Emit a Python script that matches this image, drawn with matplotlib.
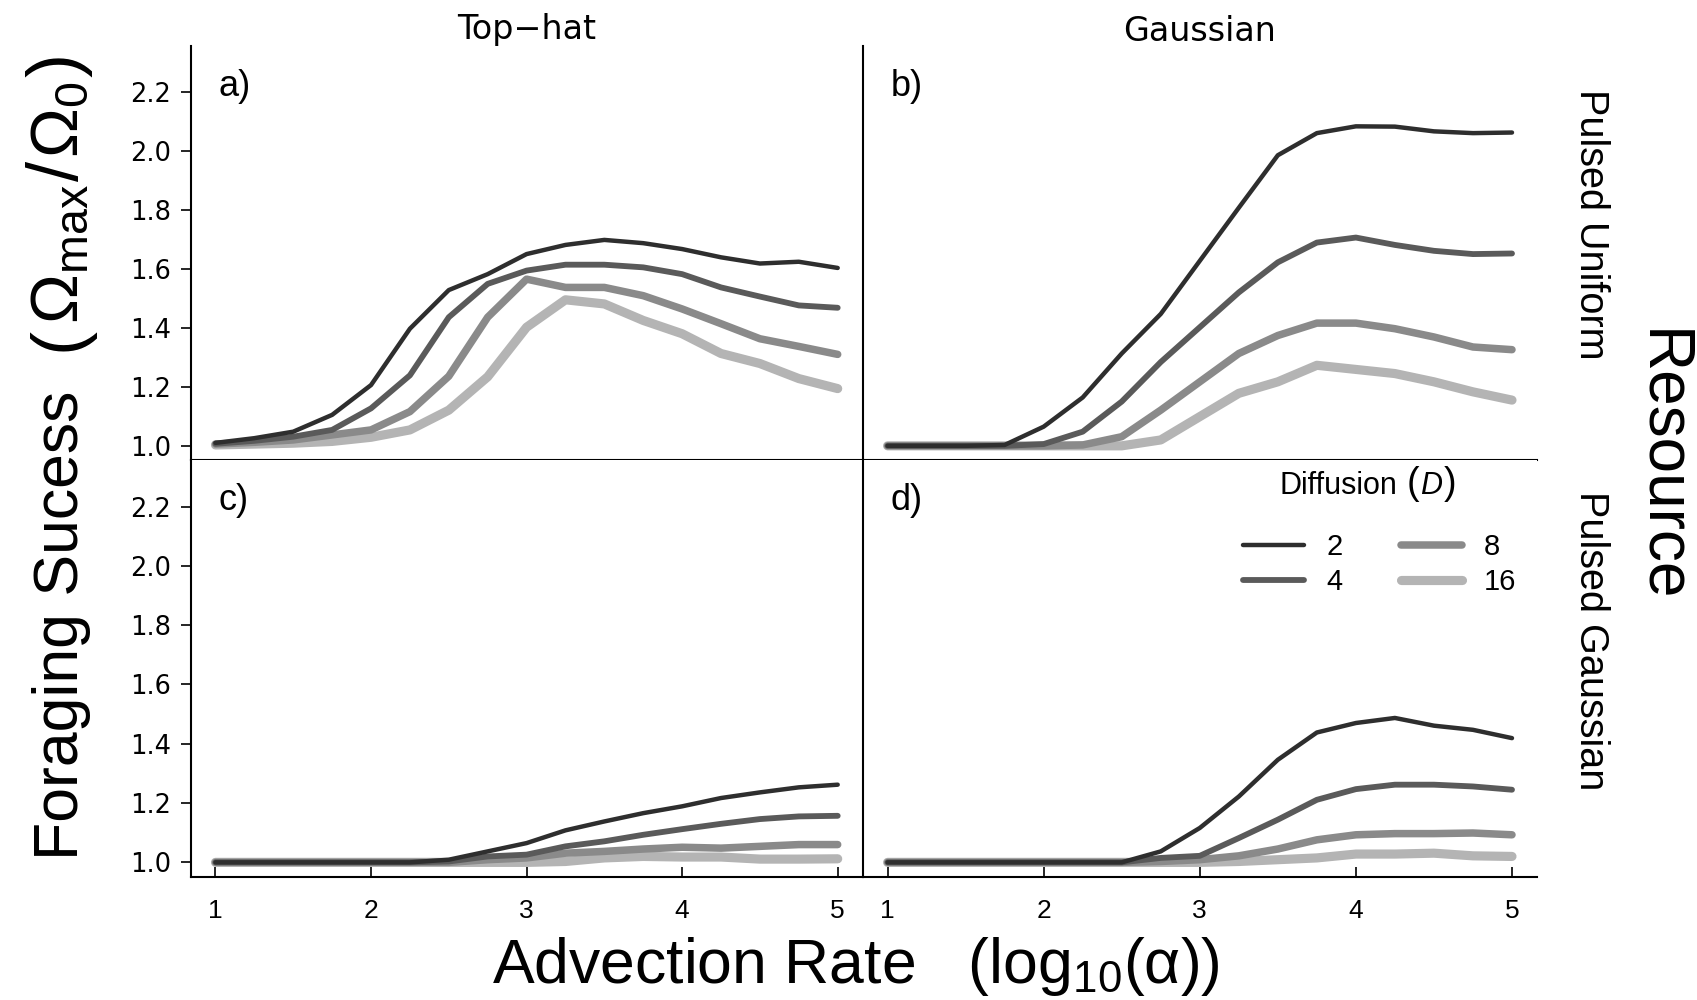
import numpy as np
import matplotlib
matplotlib.use("Agg")
import matplotlib.pyplot as plt
from matplotlib.ticker import FormatStrFormatter
from matplotlib.transforms import IdentityTransform

plt.rcParams["font.family"] = ["Liberation Sans", "DejaVu Sans"]
plt.rcParams["mathtext.fontset"] = "custom"
plt.rcParams["mathtext.rm"] = "Liberation Sans"
plt.rcParams["mathtext.it"] = "Liberation Sans:italic"
plt.rcParams["mathtext.bf"] = "Liberation Sans:bold"

# advection rate, log10(alpha)
log_alpha = [1.0, 1.25, 1.5, 1.75, 2.0, 2.25, 2.5, 2.75, 3.0,
             3.25, 3.5, 3.75, 4.0, 4.25, 4.5, 4.75, 5.0]
diffusion = ["2", "4", "8", "16"]
colors = ["#2e2e2e", "#5a5a5a", "#8a8a8a", "#b4b4b4"]
widths = [3.2, 4.2, 5.4, 6.6]

# a) top-hat forager, pulsed uniform resource (rows: D = 2, 4, 8, 16)
tophat_uniform = [
    [1.01, 1.026, 1.048, 1.105, 1.206, 1.397, 1.528, 1.582, 1.65, 1.681, 1.698, 1.687, 1.667, 1.639, 1.618, 1.624, 1.603],
    [1.007, 1.017, 1.031, 1.054, 1.127, 1.239, 1.436, 1.549, 1.594, 1.614, 1.614, 1.605, 1.582, 1.537, 1.506, 1.476, 1.468],
    [1.006, 1.012, 1.02, 1.037, 1.054, 1.116, 1.236, 1.436, 1.565, 1.537, 1.537, 1.509, 1.464, 1.414, 1.363, 1.337, 1.31],
    [1.003, 1.006, 1.009, 1.015, 1.029, 1.054, 1.121, 1.234, 1.402, 1.495, 1.481, 1.425, 1.38, 1.313, 1.279, 1.228, 1.194],
]
# b) gaussian forager, pulsed uniform resource
gauss_uniform = [
    [1.0, 1.0, 1.0, 1.003, 1.065, 1.164, 1.313, 1.447, 1.627, 1.807, 1.985, 2.06, 2.083, 2.082, 2.066, 2.06, 2.062],
    [1.0, 1.0, 1.0, 1.0, 1.006, 1.048, 1.15, 1.284, 1.402, 1.52, 1.622, 1.689, 1.706, 1.681, 1.661, 1.65, 1.652],
    [1.0, 1.0, 1.0, 1.0, 1.0, 1.003, 1.031, 1.121, 1.217, 1.313, 1.374, 1.416, 1.416, 1.397, 1.369, 1.335, 1.326],
    [1.0, 1.0, 1.0, 1.0, 1.0, 1.0, 1.0, 1.02, 1.099, 1.178, 1.217, 1.273, 1.259, 1.245, 1.217, 1.183, 1.155],
]
# c) top-hat forager, pulsed gaussian resource
tophat_gauss = [
    [1.0, 1.0, 1.0, 1.0, 1.0, 1.0, 1.009, 1.037, 1.065, 1.108, 1.138, 1.166, 1.189, 1.217, 1.236, 1.253, 1.262],
    [1.0, 1.0, 1.0, 1.0, 1.0, 1.0, 1.003, 1.02, 1.026, 1.054, 1.071, 1.093, 1.112, 1.13, 1.146, 1.155, 1.157],
    [1.0, 1.0, 1.0, 1.0, 1.0, 1.0, 1.0, 1.009, 1.015, 1.031, 1.037, 1.045, 1.051, 1.048, 1.054, 1.06, 1.06],
    [1.0, 1.0, 1.0, 1.0, 1.0, 1.0, 1.0, 1.0, 1.0, 1.003, 1.015, 1.02, 1.018, 1.018, 1.011, 1.011, 1.012],
]
# d) gaussian forager, pulsed gaussian resource
gauss_gauss = [
    [1.0, 1.0, 1.0, 1.0, 1.0, 1.0, 1.0, 1.037, 1.116, 1.222, 1.346, 1.438, 1.47, 1.487, 1.461, 1.447, 1.419],
    [1.0, 1.0, 1.0, 1.0, 1.0, 1.0, 1.0, 1.015, 1.022, 1.082, 1.144, 1.211, 1.247, 1.262, 1.262, 1.256, 1.245],
    [1.0, 1.0, 1.0, 1.0, 1.0, 1.0, 1.0, 1.003, 1.009, 1.022, 1.045, 1.076, 1.093, 1.097, 1.097, 1.099, 1.093],
    [1.0, 1.0, 1.0, 1.0, 1.0, 1.0, 1.0, 1.0, 1.0, 1.003, 1.009, 1.015, 1.028, 1.028, 1.031, 1.022, 1.02],
]

panels = [("a)", tophat_uniform), ("b)", gauss_uniform),
          ("c)", tophat_gauss), ("d)", gauss_gauss)]
yticks = [1.0, 1.2, 1.4, 1.6, 1.8, 2.0, 2.2]
xticks = [1, 2, 3, 4, 5]

fig = plt.figure(figsize=(16.97, 10), dpi=100)
x0, xm, x1 = 0.1123, 0.5083, 0.9057
y0, ym, y1 = 0.1234, 0.540, 0.9545
boxes = [[x0, ym, xm - x0, y1 - ym], [xm, ym, x1 - xm, y1 - ym],
         [x0, y0, xm - x0, ym - y0], [xm, y0, x1 - xm, ym - y0]]

axes = []
for i, (tag, series) in enumerate(panels):
    ax = fig.add_axes(boxes[i])
    # lightest first so the D=2 line sits on top
    for k in range(3, -1, -1):
        ax.plot(log_alpha, series[k], color=colors[k], lw=widths[k],
                solid_capstyle="round", solid_joinstyle="round", label=diffusion[k])
    ax.set_xlim(0.84, 5.16)
    ax.set_ylim(0.952, 2.357)
    for s in ("top", "right"):
        ax.spines[s].set_visible(False)
    for s in ("left", "bottom"):
        ax.spines[s].set_linewidth(1.5)
    ax.set_yticks(yticks)
    ax.yaxis.set_major_formatter(FormatStrFormatter("%.1f"))
    ax.set_xticks(xticks)
    ax.tick_params(axis="y", direction="out", length=7, width=1.2, labelsize=18.5, pad=7)
    ax.tick_params(axis="x", direction="in", length=7, width=1.2, labelsize=19, pad=16)
    for lab in ax.get_yticklabels():
        lab.set_family("DejaVu Sans")
    if i % 2 == 1:
        ax.tick_params(axis="y", left=False, labelleft=False)
    if i < 2:
        ax.tick_params(axis="x", bottom=False, labelbottom=False)
    ax.text(0.041, 0.902, tag, transform=ax.transAxes, fontsize=26,
            ha="left", va="center")
    axes.append(ax)


def place_run(pieces, x, y, rotation=0):
    # lay text pieces end to end (pixel coords), along x or up along y
    renderer = fig.canvas.get_renderer()
    for text, size, gap, kw in pieces:
        if rotation:
            y += gap
        else:
            x += gap
        t = fig.text(x, y, text, fontsize=size, rotation=rotation,
                     rotation_mode="anchor", ha="left", va="baseline",
                     transform=IdentityTransform(), **kw)
        bb = t.get_window_extent(renderer)
        if rotation:
            y = bb.y1
        else:
            x = bb.x1


# legend in panel d
ax_d = axes[3]
h, l = ax_d.get_legend_handles_labels()
h, l = h[::-1], l[::-1]
place_run([("Diffusion", 22, 0, {}), ("(", 27, 9, {}),
           ("D", 22, 1, {"style": "italic"}), (")", 27, 1, {})],
          1280, 1000 - 494)
fig.legend(h, l, ncol=2, frameon=False, fontsize=21, loc="upper left",
           bbox_to_anchor=(1243 / 1697, 0.467), borderpad=0, borderaxespad=0,
           handlelength=2.1, handletextpad=0.75, columnspacing=2.0,
           labelspacing=0.25)

# column / row strip labels
fig.text(527 / 1697, 1 - 39 / 1000, "Top\u2212hat", fontsize=24, family="DejaVu Sans",
         ha="center", va="baseline")
fig.text(1200 / 1697, 1 - 41 / 1000, "Gaussian", fontsize=24, family="DejaVu Sans",
         ha="center", va="baseline")
fig.text(1591 / 1697, 1 - 224 / 1000, "Pulsed Uniform", fontsize=28.5, rotation=-90,
         ha="center", va="center")
fig.text(1591 / 1697, 1 - 641 / 1000, "Pulsed Gaussian", fontsize=28.5, rotation=-90,
         ha="center", va="center")
fig.text(1661 / 1697, 1 - 466 / 1000, "Resource", fontsize=46, rotation=-90,
         ha="center", va="center")

# axis titles
place_run([("Foraging Sucess", 45, 0, {}),
           ("(", 52, 40, {}),
           (r"$\Omega_{\mathrm{max}}$", 48, 2, {}),
           ("/", 52, 3, {}),
           (r"$\Omega_0$", 48, 3, {}),
           (")", 52, 5, {})],
          78, 140, rotation=90)
fig.text(492 / 1697, 1 - 983 / 1000, "Advection Rate   (log$_{10}$(\u03b1))",
         fontsize=45, ha="left", va="baseline")

fig.savefig("out.png", dpi=100)
